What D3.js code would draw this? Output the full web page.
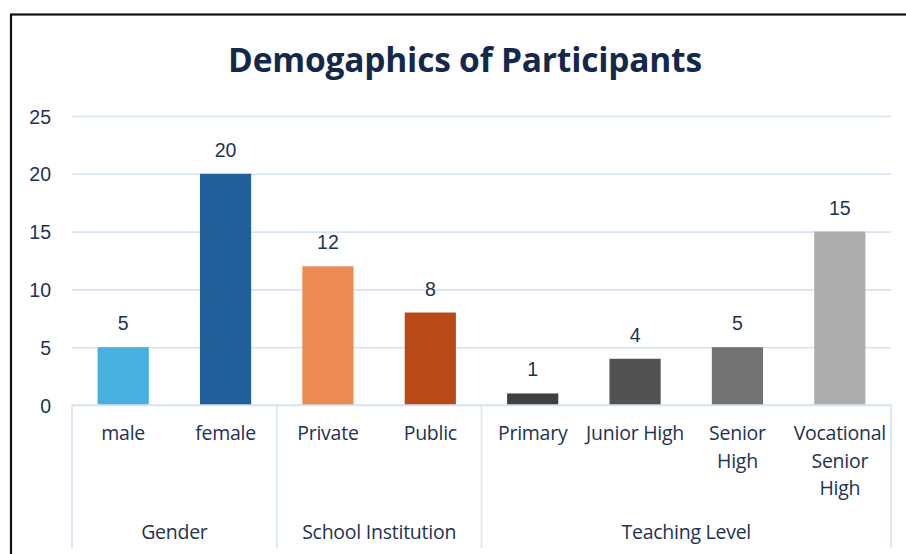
<!DOCTYPE html>
<html>
<head>
<meta charset="utf-8">
<script src="https://cdn.jsdelivr.net/npm/d3@7/dist/d3.min.js"></script>
<style>
  html, body { margin: 0; padding: 0; background: #fff; }
  svg { display: block; }
</style>
</head>
<body>
<svg id="chart" width="906" height="554"></svg>
<script>
// Participant counts, grouped by demographic dimension
const categories = ["male", "female", "Private", "Public", "Primary", "Junior High", "Senior High", "Vocational Senior High"];
const categoryLines = [["male"], ["female"], ["Private"], ["Public"], ["Primary"], ["Junior High"], ["Senior", "High"], ["Vocational", "Senior", "High"]];
const groups = ["Gender", "School Institution", "Teaching Level"];
const groupOf = ["Gender", "Gender", "School Institution", "School Institution", "Teaching Level", "Teaching Level", "Teaching Level", "Teaching Level"];
const values = [5, 20, 12, 8, 1, 4, 5, 15];
const barColors = ["#47b0e0", "#215f9a", "#ed8b55", "#b74a16", "#404040", "#525252", "#737373", "#adadad"];
const yTicks = [0, 5, 10, 15, 20, 25];

const svg = d3.select("#chart");
const W = 906, H = 554;
const margin = { left: 72, right: 15, top: 116, bottom: 149 };
const plotRight = W - margin.right;
const plotBottom = H - margin.bottom;

const textColor = "#1e3350";
const gridColor = "#d6e3f3";
const numFont = "'Liberation Sans', Arial, sans-serif";
const labelFont = "'Open Sans', 'Noto Sans', sans-serif";

// Chart frame
svg.append("rect")
  .attr("x", 11).attr("y", 14.5)
  .attr("width", W + 20).attr("height", H + 20)
  .attr("fill", "#fff").attr("stroke", "#111").attr("stroke-width", 2.2);

const x = d3.scaleBand().domain(categories).range([margin.left, plotRight]).paddingInner(0).paddingOuter(0);
const y = d3.scaleLinear().domain([0, 25]).range([plotBottom, margin.top]);

// Horizontal gridlines and value axis labels
const yAxis = d3.axisLeft(y).tickValues(yTicks).tickSize(-(plotRight - margin.left)).tickPadding(21);
const gy = svg.append("g").attr("transform", `translate(${margin.left},0)`).call(yAxis);
gy.select(".domain").remove();
gy.selectAll(".tick line").attr("stroke", gridColor).attr("stroke-width", 1.6);
gy.selectAll(".tick text")
  .attr("fill", textColor)
  .attr("font-family", numFont)
  .attr("font-size", 19.5)
  .attr("dy", "0.36em");

// Bars
const bw = x.bandwidth() * 0.5;
svg.append("g").selectAll("rect")
  .data(categories)
  .join("rect")
  .attr("x", (d) => x(d) + (x.bandwidth() - bw) / 2)
  .attr("y", (d, i) => y(values[i]))
  .attr("width", bw)
  .attr("height", (d, i) => y(0) - y(values[i]))
  .attr("fill", (d, i) => barColors[i]);

// Value labels above bars
svg.append("g").selectAll("text")
  .data(categories)
  .join("text")
  .attr("x", (d) => x(d) + x.bandwidth() / 2)
  .attr("y", (d, i) => y(values[i]) - 17)
  .attr("text-anchor", "middle")
  .attr("fill", textColor)
  .attr("font-family", numFont)
  .attr("font-size", 19.5)
  .text((d, i) => values[i]);

// Category axis: baseline, group separators, labels
svg.append("line")
  .attr("x1", margin.left).attr("x2", plotRight)
  .attr("y1", plotBottom).attr("y2", plotBottom)
  .attr("stroke", gridColor).attr("stroke-width", 1.6);

const groupBounds = groups.map((g) => {
  const members = categories.filter((c, i) => groupOf[i] === g);
  return { name: g, x0: x(members[0]), x1: x(members[members.length - 1]) + x.bandwidth() };
});
const sepXs = [groupBounds[0].x0].concat(groupBounds.map((b) => b.x1));
svg.append("g").selectAll("line")
  .data(sepXs)
  .join("line")
  .attr("x1", (d) => d).attr("x2", (d) => d)
  .attr("y1", plotBottom).attr("y2", H - 6)
  .attr("stroke", gridColor).attr("stroke-width", 1.6);

const catLabels = svg.append("g").selectAll("text")
  .data(categories)
  .join("text")
  .attr("x", (d) => x(d) + x.bandwidth() / 2)
  .attr("y", plotBottom + 35)
  .attr("text-anchor", "middle")
  .attr("fill", textColor)
  .attr("font-family", labelFont)
  .attr("font-size", 19.5)
  .attr("letter-spacing", "-0.25");
catLabels.selectAll("tspan")
  .data((d, i) => categoryLines[i])
  .join("tspan")
  .attr("x", function () { return d3.select(this.parentNode).attr("x"); })
  .attr("dy", (d, i) => (i === 0 ? 0 : 27.5))
  .text((d) => d);

svg.append("g").selectAll("text")
  .data(groupBounds)
  .join("text")
  .attr("x", (d) => (d.x0 + d.x1) / 2)
  .attr("y", plotBottom + 134)
  .attr("text-anchor", "middle")
  .attr("fill", textColor)
  .attr("font-family", labelFont)
  .attr("font-size", 19.5)
  .attr("letter-spacing", "-0.25")
  .text((d) => d.name);

// Title
svg.append("text")
  .attr("x", 465).attr("y", 72)
  .attr("text-anchor", "middle")
  .attr("fill", "#14294a")
  .attr("font-family", labelFont)
  .attr("font-weight", 700)
  .attr("font-size", 33.5)
  .attr("letter-spacing", "-0.2")
  .text("Demogaphics of Participants");
</script>
</body>
</html>
